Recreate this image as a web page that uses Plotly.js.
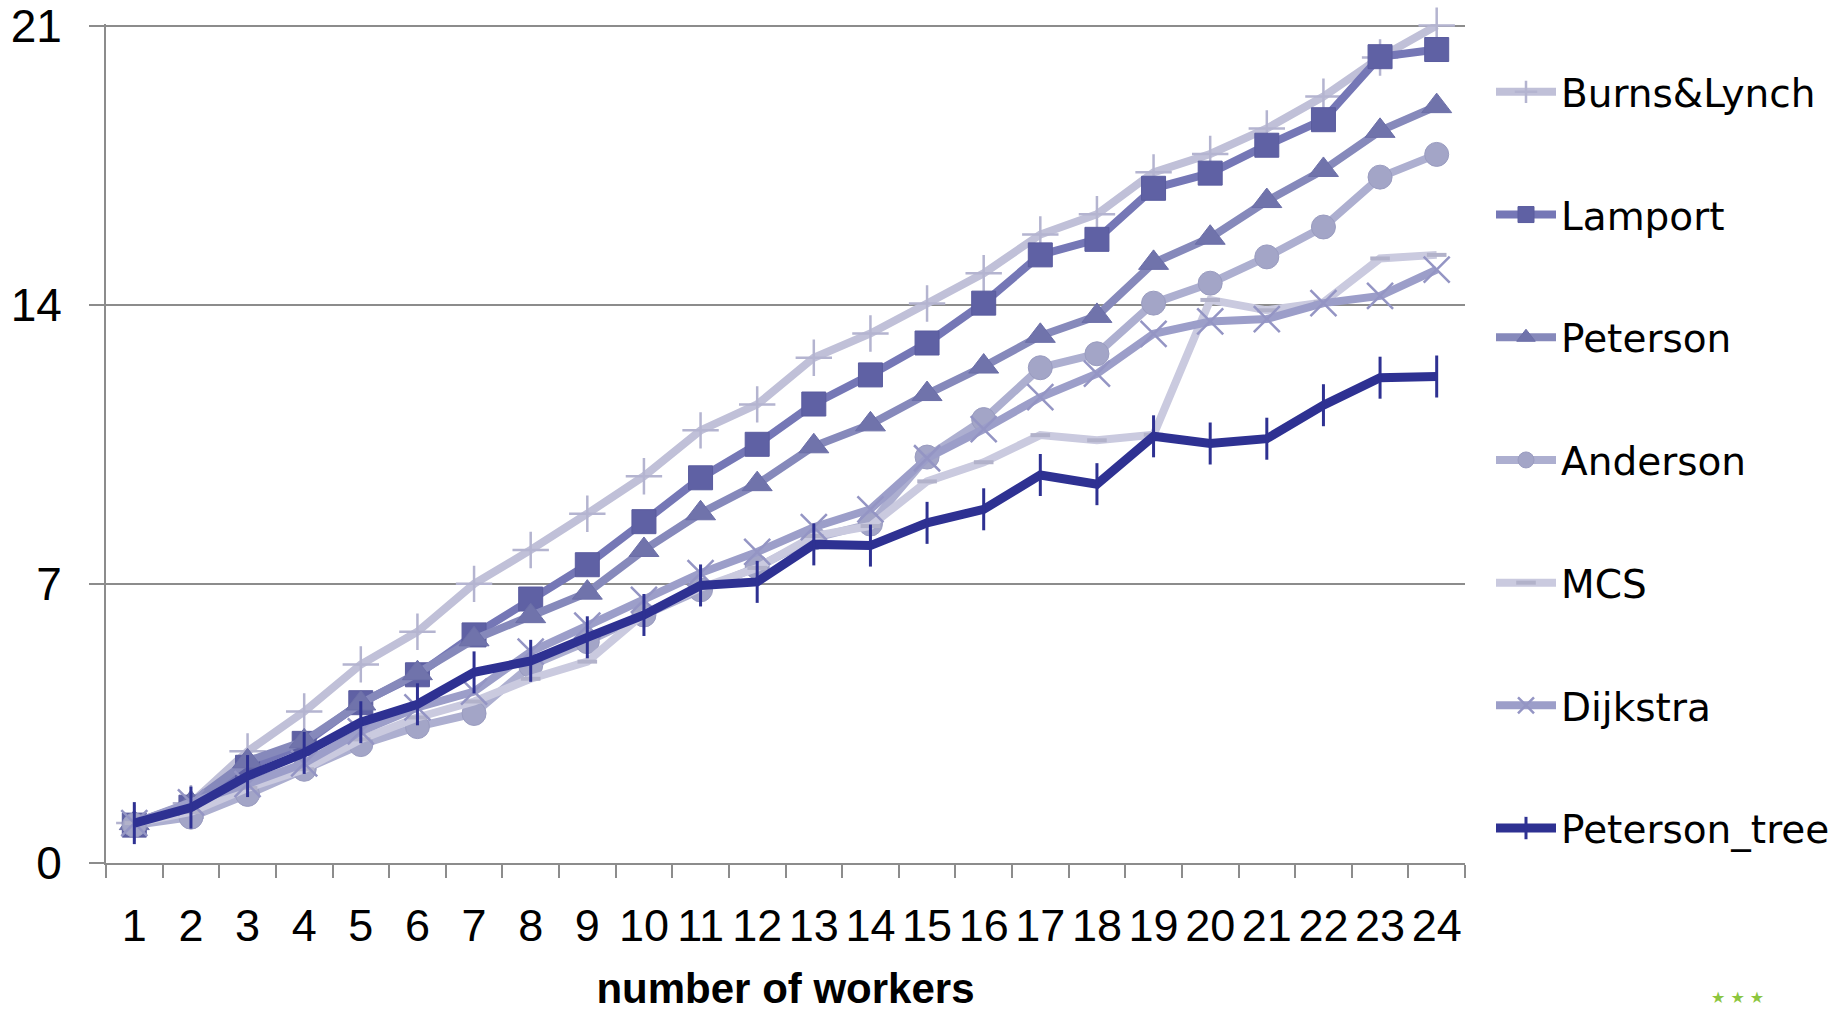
<!DOCTYPE html>
<html>
<head>
<meta charset="utf-8">
<script src="https://cdn.plot.ly/plotly-3.0.1.min.js"></script>
<style>
  html, body { margin: 0; padding: 0; background: #ffffff; }
  #chart { width: 1847px; height: 1012px; }
</style>
</head>
<body>
<div id="chart"></div>
<script>
// ---- data ----
const workers = ["1","2","3","4","5","6","7","8","9","10","11","12","13","14","15","16","17","18","19","20","21","22","23","24"];

const burnsLynch   = [1.0, 1.5, 2.8, 3.8, 4.98, 5.8, 7.0, 7.85, 8.76, 9.7, 10.85, 11.5, 12.67, 13.28, 14.03, 14.79, 15.76, 16.27, 17.32, 17.78, 18.42, 19.22, 20.2, 21.0];
const lamport      = [0.95, 1.4, 2.4, 3.0, 4.02, 4.72, 5.72, 6.62, 7.48, 8.56, 9.66, 10.5, 11.51, 12.24, 13.04, 14.04, 15.25, 15.64, 16.92, 17.3, 18.0, 18.64, 20.22, 20.4];
const peterson     = [1.0, 1.5, 2.55, 3.05, 4.0, 4.76, 5.61, 6.19, 6.78, 7.85, 8.77, 9.5, 10.45, 11.0, 11.76, 12.45, 13.22, 13.72, 15.05, 15.68, 16.6, 17.38, 18.36, 18.98];
const anderson     = [0.95, 1.15, 1.72, 2.35, 2.97, 3.42, 3.75, 4.95, 5.55, 6.22, 6.85, 7.42, 8.15, 8.5, 10.18, 11.12, 12.42, 12.77, 14.04, 14.54, 15.2, 15.95, 17.2, 17.77];
const mcs          = [1.0, 1.28, 1.88, 2.35, 3.1, 3.65, 4.05, 4.62, 5.05, 6.25, 6.9, 7.4, 8.2, 8.45, 9.57, 10.05, 10.73, 10.6, 10.74, 14.12, 13.86, 14.06, 15.16, 15.25];
const dijkstra     = [1.0, 1.52, 1.98, 2.5, 3.3, 3.9, 4.3, 5.3, 5.95, 6.6, 7.27, 7.8, 8.42, 8.87, 10.15, 10.88, 11.68, 12.27, 13.27, 13.58, 13.64, 14.04, 14.22, 14.88];
const petersonTree = [1.0, 1.39, 2.18, 2.76, 3.53, 3.98, 4.78, 5.07, 5.66, 6.22, 6.96, 7.05, 7.99, 7.96, 8.53, 8.87, 9.73, 9.5, 10.7, 10.52, 10.64, 11.48, 12.17, 12.2];

const yTickStep = 7;
const yMax = 21;

// ---- styles ----
const tickFont = "Liberation Sans Narrow, Liberation Sans, Arial, sans-serif";
const legendFont = "DejaVu Sans, Verdana, sans-serif";

function series(name, y, lineColor, lineWidth, marker, group) {
  return {
    type: "scatter",
    mode: "lines+markers",
    name: name,
    x: workers,
    y: y,
    legendgroup: group,
    line: { color: lineColor, width: lineWidth, shape: "linear" },
    marker: marker,
    cliponaxis: false,
    hoverinfo: "x+y+name"
  };
}

const traces = [
  series("Burns&Lynch", burnsLynch, "#c0c0d8", 8,
    { symbol: "cross-thin", size: 26, color: "#b8b8d2", line: { color: "#b4b4d0", width: 2.5 } }, "g1"),
  series("Lamport", lamport, "#7577b6", 8,
    { symbol: "square", size: 24, color: "#5f61a4", line: { color: "#5a5c9e", width: 1 } }, "g2"),
  series("Peterson", peterson, "#8689bb", 8,
    { symbol: "triangle-up", size: 26, color: "#7073ab", line: { color: "#6c6fa8", width: 1 } }, "g3"),
  series("Anderson", anderson, "#adafd0", 8,
    { symbol: "circle", size: 24, color: "#a3a5c7", line: { color: "#9a9cc0", width: 1 } }, "g4"),
  series("MCS", mcs, "#cacadf", 8,
    { symbol: "line-ew", size: 14, color: "#b2b2ca", line: { color: "#b2b2ca", width: 4 } }, "g5"),
  series("Dijkstra", dijkstra, "#9c9ec9", 8,
    { symbol: "x-thin", size: 26, color: "#9495c4", line: { color: "#9495c4", width: 2.5 } }, "g6"),
  series("Peterson_tree", petersonTree, "#2e3192", 9,
    { symbol: "line-ns", size: 30, color: "#2e3192", line: { color: "#2e3192", width: 3 } }, "g7")
];

const layout = {
  width: 1847,
  height: 1012,
  paper_bgcolor: "#ffffff",
  plot_bgcolor: "#ffffff",
  margin: { l: 106, r: 382, t: 24, b: 149, pad: 0, autoexpand: false },
  showlegend: true,
  legend: {
    x: 1491 / 1847,
    xref: "container",
    xanchor: "left",
    y: 1 - 60 / 1012,
    yref: "container",
    yanchor: "top",
    maxheight: 1,
    font: { family: legendFont, size: 39, color: "#000000" },
    tracegroupgap: 69,
    itemwidth: 60,
    bgcolor: "rgba(0,0,0,0)",
    borderwidth: 0
  },
  xaxis: {
    type: "category",
    range: [-0.5, 23.5],
    autorange: false,
    tickson: "boundaries",
    ticks: "outside",
    ticklen: 13,
    tickwidth: 2,
    tickcolor: "#8c8c8c",
    showline: true,
    linecolor: "#8c8c8c",
    linewidth: 2,
    showgrid: false,
    zeroline: false,
    tickangle: 0,
    dtick: 1,
    tickfont: { family: tickFont, size: 45, color: "#000000" },
    ticklabelstandoff: 22,
    ticklabeloverflow: "allow",
    automargin: false,
    title: {
      text: "<b>number of workers</b>",
      font: { family: tickFont, size: 42, color: "#000000" },
      standoff: 35
    }
  },
  yaxis: {
    range: [0, yMax + 0.04],
    autorange: false,
    tickmode: "linear",
    tick0: 0,
    dtick: yTickStep,
    ticks: "outside",
    ticklen: 15,
    tickwidth: 2,
    tickcolor: "#8c8c8c",
    showline: true,
    linecolor: "#8c8c8c",
    linewidth: 2,
    showgrid: true,
    gridcolor: "#8c8c8c",
    gridwidth: 2,
    zeroline: false,
    tickfont: { family: tickFont, size: 46, color: "#000000" },
    ticklabelstandoff: 18,
    ticklabeloverflow: "allow",
    automargin: false
  },
  annotations: [
    {
      text: "★ ★ ★",
      xref: "paper", yref: "paper",
      x: (1738 - 106) / 1359, y: -(997 - 863) / 838,
      xanchor: "center", yanchor: "middle",
      showarrow: false,
      font: { family: "DejaVu Sans, sans-serif", size: 16, color: "#8cc63f" }
    }
  ]
};

Plotly.newPlot("chart", traces, layout, { displayModeBar: false, responsive: false });
</script>
</body>
</html>
